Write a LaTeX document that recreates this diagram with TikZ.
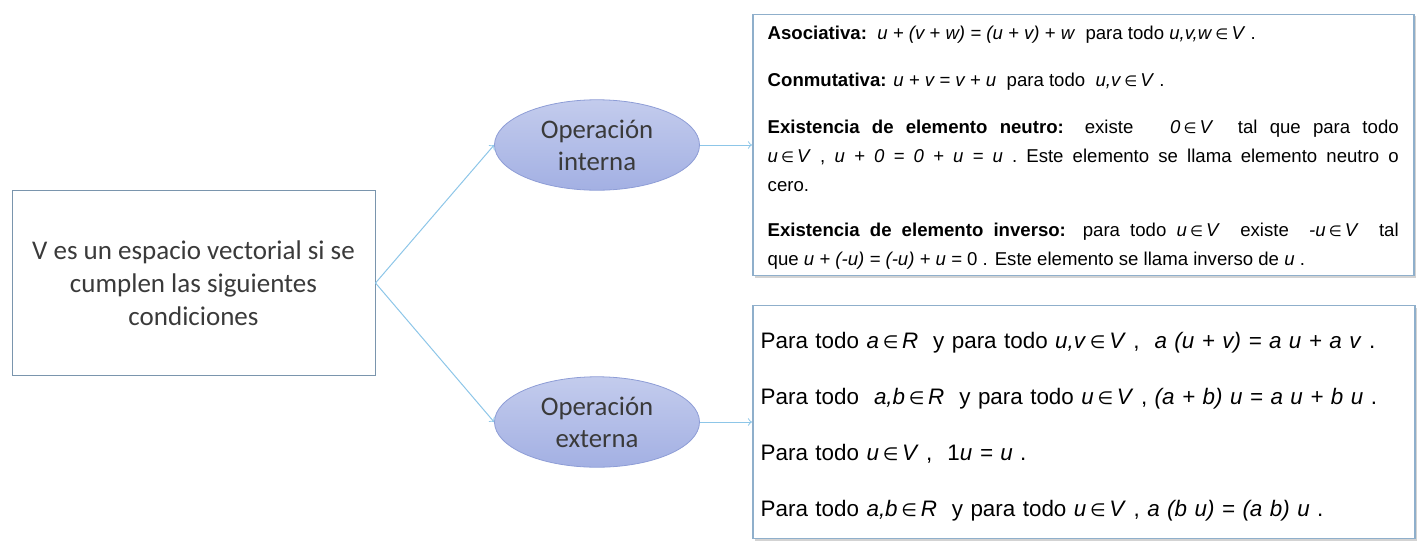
\documentclass[tikz,border=0pt]{standalone}
\usepackage{fontspec}
\setmainfont{Liberation Sans}
\newfontfamily\calfont{Carlito}
\newfontfamily\symfont[Scale=0.8]{DejaVu Sans}
\usepackage{tikz}
\usetikzlibrary {shapes.geometric}
\usetikzlibrary {positioning}
\usetikzlibrary {shadows}

\definecolor{arrowblue}{HTML}{8DC6E8}
\definecolor{ellfill}{HTML}{A3B0E3}
\definecolor{elldraw}{HTML}{8E9DD6}
\definecolor{boxdraw}{HTML}{8FAFCB}
\definecolor{txtgray}{HTML}{3A3A3A}

\newcommand{\inn}{\,{\symfont ∈}\,}

\begin{document}
\begin{tikzpicture}[x=0.5pt, y=-0.5pt]
\useasboundingbox (0,0) rectangle (1427,557);

\node [rectangle, draw=boxdraw!85!black, line width=0.5pt, minimum width=181.5pt, minimum height=92.5pt, align=center, text=txtgray, font=\calfont\fontsize{13.5}{16.5}\selectfont] (vspace) at (193.5,283) {V es un espacio vectorial si se\\cumplen las siguientes\\condiciones};

\node [ellipse, draw=elldraw, top color=ellfill!65!white, bottom color=ellfill, minimum width=102.5pt, minimum height=45pt, align=center, text=txtgray, font=\calfont\fontsize{13.4}{16}\selectfont] (opint) at (597,145) {Operación\\interna};
\node [ellipse, draw=elldraw, top color=ellfill!65!white, bottom color=ellfill, minimum width=102.5pt, minimum height=45pt, align=center, text=txtgray, font=\calfont\fontsize{13.4}{16}\selectfont] (opext) at (597,422) {Operación\\externa};

\draw [->, arrowblue, line width=0.5pt] (vspace.east) to (opint.west);
\draw [->, arrowblue, line width=0.5pt] (vspace.east) to (opext.west);

%interna
\node [rectangle, draw=boxdraw, line width=0.8pt, fill=white, drop shadow={shadow xshift=1pt, shadow yshift=-1pt, opacity=0.35}, minimum width=330.5pt, minimum height=130pt, text width=315.5pt, inner xsep=5pt, align=justify, font=\fontsize{9.3}{14.5}\selectfont, right=26pt of opint] (interna) {%
\rule{0pt}{9pt}\textbf{Asociativa:}\ \ \textit{u + (v + w) = (u + v) + w}\ \ para todo \textit{u,v,w}\inn\textit{V} .\par\vspace{9pt}
\textbf{Conmutativa:} \textit{u + v = v + u}\ \ para todo\ \ \textit{u,v}\inn\textit{V} .\par\vspace{9pt}
\textbf{Existencia de elemento neutro:} existe\ \ \ \textit{0}\inn\textit{V}\ \ tal que para todo\linebreak \textit{u}\inn\textit{V} , \textit{u + 0 = 0 + u = u} .\ Este elemento se llama elemento neutro o\linebreak cero.\par\vspace{8pt}
\textbf{Existencia de elemento inverso:} para todo \textit{u}\inn\textit{V}\ \ existe\ \ \textit{-u}\inn\textit{V}\ \ tal\linebreak que \textit{u + (-u) = (-u) + u =} 0 . Este elemento se llama inverso de \textit{u} .};
\draw [->, arrowblue, line width=0.5pt] (opint) to (interna);

%externa
\node [rectangle, draw=boxdraw, line width=0.8pt, fill=white, drop shadow={shadow xshift=1pt, shadow yshift=-1pt, opacity=0.35}, minimum width=330.5pt, minimum height=116.5pt, text width=323pt, inner xsep=4pt, align=left, font=\fontsize{11.2}{28}\selectfont, right=26pt of opext] (externa) {%
\rule{0pt}{13pt}Para todo \textit{a}\inn\textit{R}\ \ y para todo \textit{u,v}\inn\textit{V} ,\ \ \textit{a (u + v) = a u + a v} .\\
Para todo\ \ \textit{a,b}\inn\textit{R}\ \ y para todo \textit{u}\inn\textit{V} ,\ \textit{(a + b) u = a u + b u} .\\
Para todo \textit{u}\inn\textit{V} ,\ \ 1\textit{u = u} .\\
Para todo \textit{a,b}\inn\textit{R}\ \ y para todo \textit{u}\inn\textit{V} ,\ \textit{a (b u) = (a b) u} .};
\draw [->, arrowblue, line width=0.5pt] (opext) to (externa);

\end{tikzpicture}
\end{document}
